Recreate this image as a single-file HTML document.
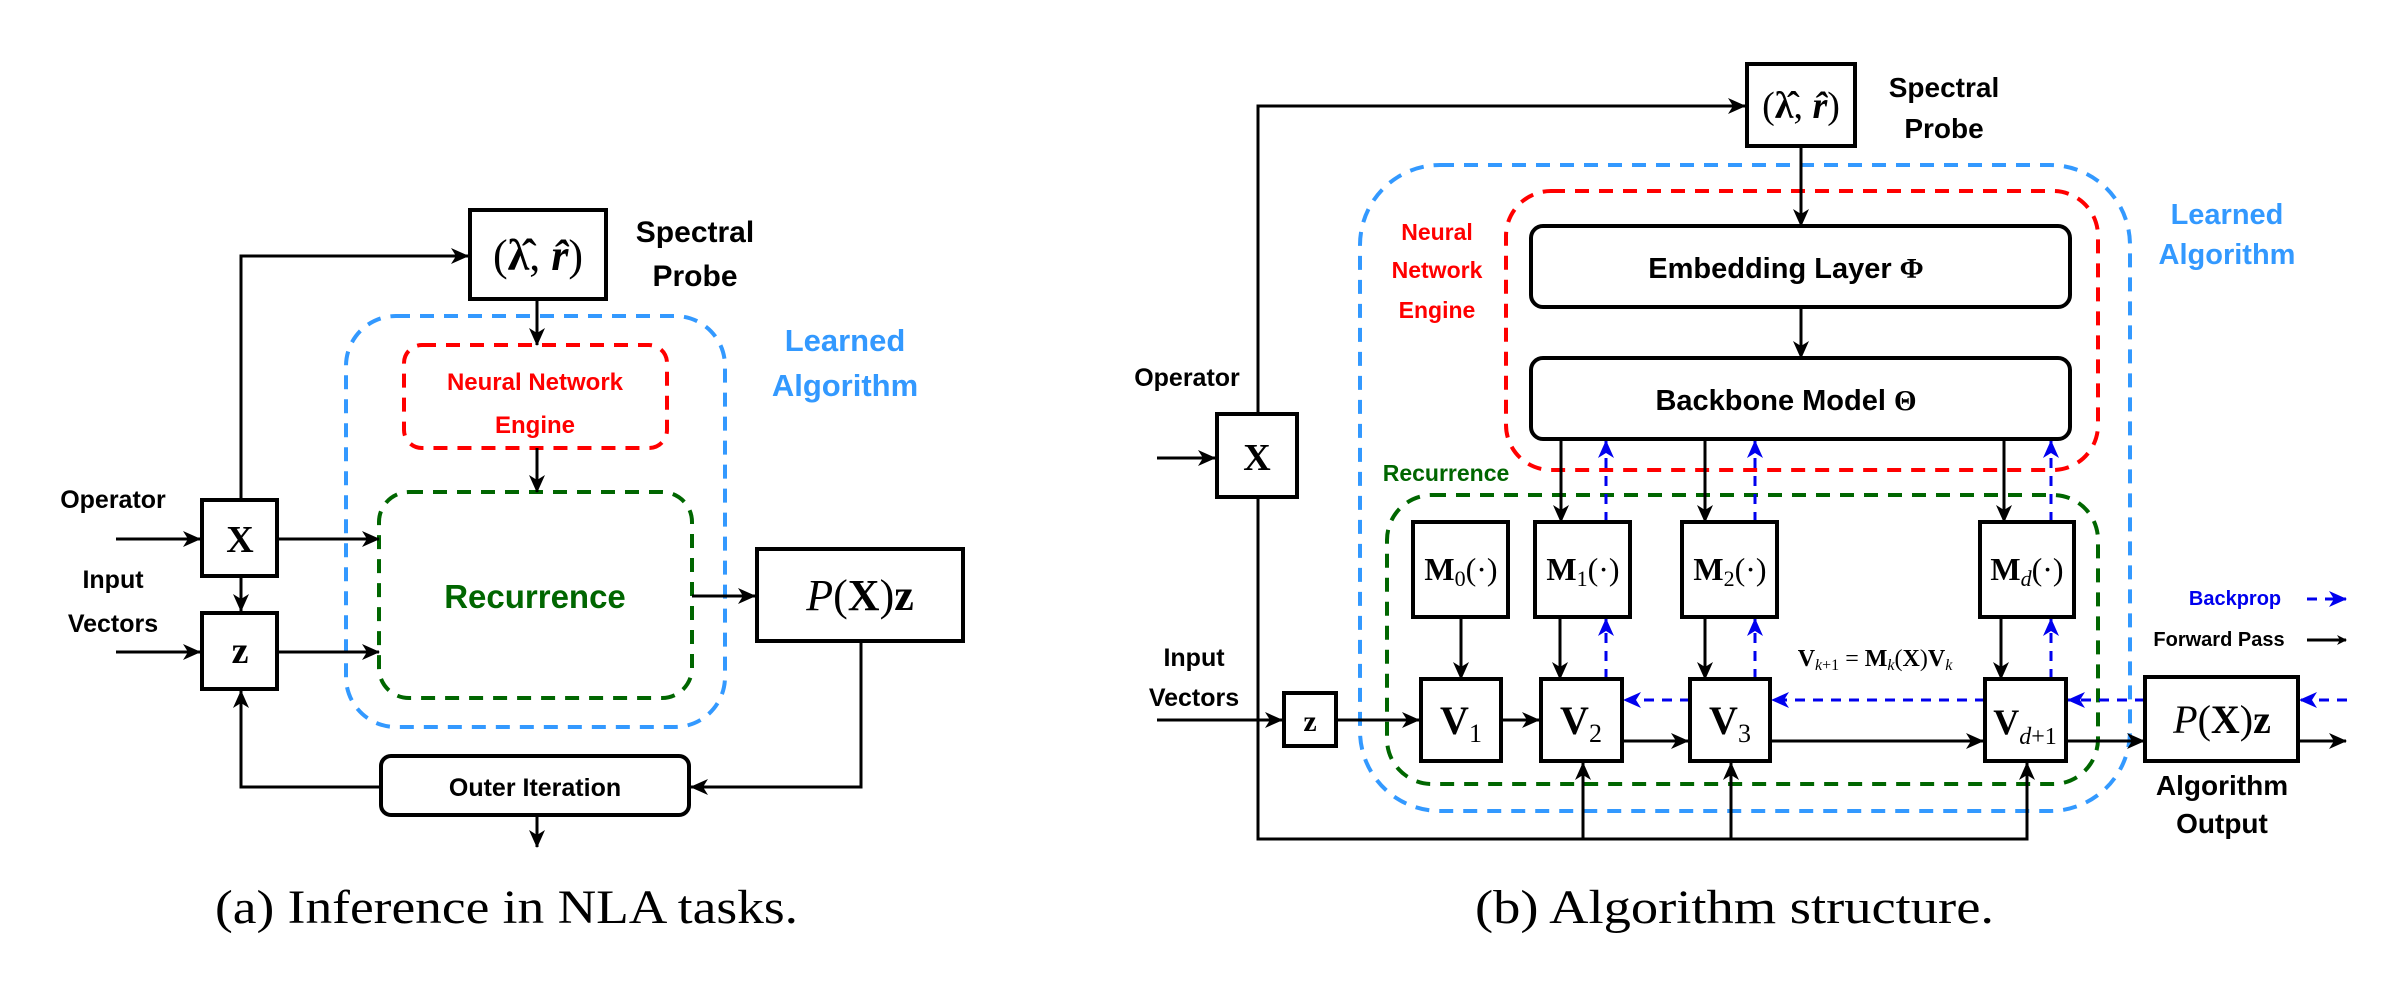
<!DOCTYPE html>
<html><head><meta charset="utf-8"><style>
html,body{margin:0;padding:0;background:#fff}
svg{display:block}
.s{font-family:"Liberation Sans",sans-serif;font-weight:bold}
.m{font-family:"Liberation Serif",serif}
</style></head><body>
<svg width="2406" height="986" viewBox="0 0 2406 986" xmlns="http://www.w3.org/2000/svg">
<defs>
<marker id="a" markerWidth="10" markerHeight="10" refX="9" refY="5" orient="auto" markerUnits="userSpaceOnUse" viewBox="0 0 10 10"><path d="M0,0 L10,5 L0,10 L3,5z" fill="#000"/></marker>
<marker id="A" markerWidth="18" markerHeight="18" refX="17" refY="9" orient="auto" markerUnits="userSpaceOnUse" viewBox="0 0 18 18"><path d="M0,1 L18,9 L0,17 L5,9z" fill="#000"/></marker>
<marker id="b" markerWidth="18" markerHeight="18" refX="17" refY="9" orient="auto" markerUnits="userSpaceOnUse" viewBox="0 0 18 18"><path d="M0,1 L18,9 L0,17 L5,9z" fill="#0000ee"/></marker>
</defs>

<!-- ============ LEFT PANEL ============ -->
<g fill="none">
<rect x="346" y="316" width="379" height="411" rx="50" stroke="#3399ff" stroke-width="4" stroke-dasharray="14,10"/>
<rect x="404" y="345" width="263" height="103" rx="18" stroke="#ff0000" stroke-width="4" stroke-dasharray="14,10"/>
<rect x="379" y="492" width="313" height="206" rx="30" stroke="#006600" stroke-width="4" stroke-dasharray="14,10"/>
</g>
<g stroke="#000" stroke-width="4" fill="#fff">
<rect x="470" y="210" width="136" height="89"/>
<rect x="202" y="500" width="75" height="76"/>
<rect x="202" y="613" width="75" height="76"/>
<rect x="757" y="549" width="206" height="92"/>
<rect x="381" y="756" width="308" height="59" rx="10"/>
</g>
<g stroke="#000" stroke-width="3" fill="none">
<polyline points="241,500 241,256 468,256" marker-end="url(#A)"/>
<line x1="537" y1="299" x2="537" y2="345" marker-end="url(#A)"/>
<line x1="537" y1="448" x2="537" y2="492" marker-end="url(#A)"/>
<line x1="116" y1="539" x2="200" y2="539" marker-end="url(#A)"/>
<line x1="116" y1="652" x2="200" y2="652" marker-end="url(#A)"/>
<line x1="277" y1="539" x2="379" y2="539" marker-end="url(#A)"/>
<line x1="277" y1="652" x2="379" y2="652" marker-end="url(#A)"/>
<line x1="241" y1="576" x2="241" y2="611" marker-end="url(#A)"/>
<line x1="692" y1="596" x2="755" y2="596" marker-end="url(#A)"/>
<polyline points="861,641 861,787 691,787" marker-end="url(#A)"/>
<polyline points="381,787 241,787 241,691" marker-end="url(#A)"/>
<line x1="537" y1="815" x2="537" y2="847" marker-end="url(#A)"/>
</g>
<g class="s" text-anchor="middle">
<text x="695" y="242" font-size="30">Spectral</text>
<text x="695" y="286" font-size="30">Probe</text>
<text x="845" y="351" font-size="31" fill="#3399ff">Learned</text>
<text x="845" y="396" font-size="31" fill="#3399ff">Algorithm</text>
<text x="535" y="390" font-size="24" fill="#ff0000">Neural Network</text>
<text x="535" y="433" font-size="24" fill="#ff0000">Engine</text>
<text x="535" y="608" font-size="33" fill="#006600">Recurrence</text>
<text x="113" y="508" font-size="25">Operator</text>
<text x="113" y="588" font-size="25">Input</text>
<text x="113" y="632" font-size="25">Vectors</text>
<text x="535" y="796" font-size="25">Outer Iteration</text>
</g>
<g class="m" text-anchor="middle">
<text x="538" y="270" font-size="44">(<tspan font-weight="bold">λ̂</tspan>, <tspan font-weight="bold" font-style="italic">r̂</tspan>)</text>
<text x="240" y="552" font-size="38" font-weight="bold">X</text>
<text x="240" y="663" font-size="38" font-weight="bold">z</text>
<text x="860" y="610" font-size="44"><tspan font-style="italic">P</tspan>(<tspan font-weight="bold">X</tspan>)<tspan font-weight="bold">z</tspan></text>
</g>
<text class="m" x="215" y="923" font-size="48" textLength="583" lengthAdjust="spacingAndGlyphs">(a) Inference in NLA tasks.</text>

<!-- ============ RIGHT PANEL ============ -->
<g fill="none">
<rect x="1360" y="165" width="770" height="646" rx="80" stroke="#3399ff" stroke-width="4" stroke-dasharray="14,10"/>
<rect x="1506" y="191" width="592" height="279" rx="45" stroke="#ff0000" stroke-width="4" stroke-dasharray="14,10"/>
<rect x="1387" y="495" width="711" height="289" rx="45" stroke="#006600" stroke-width="4" stroke-dasharray="14,10"/>
</g>
<g stroke="#000" stroke-width="3" fill="none">
<polyline points="1258,414 1258,106 1745,106" marker-end="url(#A)"/>
<polyline points="1258,497 1258,839 2027,839 2027,763" marker-end="url(#A)"/>
<line x1="1583" y1="839" x2="1583" y2="763" marker-end="url(#A)"/>
<line x1="1731" y1="839" x2="1731" y2="763" marker-end="url(#A)"/>
<line x1="1157" y1="458" x2="1215" y2="458" marker-end="url(#A)"/>
<line x1="1801" y1="146" x2="1801" y2="226" marker-end="url(#A)"/>
<line x1="1801" y1="307" x2="1801" y2="358" marker-end="url(#A)"/>
<line x1="1561" y1="439" x2="1561" y2="522" marker-end="url(#A)"/>
<line x1="1705" y1="439" x2="1705" y2="522" marker-end="url(#A)"/>
<line x1="2004" y1="439" x2="2004" y2="522" marker-end="url(#A)"/>
<line x1="1461" y1="617" x2="1461" y2="679" marker-end="url(#A)"/>
<line x1="1560" y1="617" x2="1560" y2="679" marker-end="url(#A)"/>
<line x1="1705" y1="617" x2="1705" y2="679" marker-end="url(#A)"/>
<line x1="2001" y1="617" x2="2001" y2="679" marker-end="url(#A)"/>
<line x1="1157" y1="720" x2="1282" y2="720" marker-end="url(#A)"/>
<line x1="1336" y1="720" x2="1419" y2="720" marker-end="url(#A)"/>
<line x1="1501" y1="720" x2="1539" y2="720" marker-end="url(#A)"/>
<line x1="1622" y1="741" x2="1688" y2="741" marker-end="url(#A)"/>
<line x1="1770" y1="741" x2="1983" y2="741" marker-end="url(#A)"/>
<line x1="2066" y1="741" x2="2144" y2="741" marker-end="url(#A)"/>
<line x1="2298" y1="741" x2="2346" y2="741" marker-end="url(#A)"/>
<line x1="2307" y1="640" x2="2346" y2="640" marker-end="url(#a)"/>
</g>
<g stroke="#0000ee" stroke-width="3" fill="none" stroke-dasharray="10,8">
<line x1="1606" y1="522" x2="1606" y2="441" marker-end="url(#b)"/>
<line x1="1755" y1="522" x2="1755" y2="441" marker-end="url(#b)"/>
<line x1="2051" y1="522" x2="2051" y2="441" marker-end="url(#b)"/>
<line x1="1606" y1="679" x2="1606" y2="619" marker-end="url(#b)"/>
<line x1="1755" y1="679" x2="1755" y2="619" marker-end="url(#b)"/>
<line x1="2051" y1="679" x2="2051" y2="619" marker-end="url(#b)"/>
<line x1="2347" y1="700" x2="2300" y2="700" marker-end="url(#b)"/>
<line x1="2145" y1="700" x2="2068" y2="700" marker-end="url(#b)"/>
<line x1="1985" y1="700" x2="1772" y2="700" marker-end="url(#b)"/>
<line x1="1690" y1="700" x2="1624" y2="700" marker-end="url(#b)"/>
<line x1="2307" y1="599" x2="2346" y2="599" marker-end="url(#b)"/>
</g>
<g stroke="#000" stroke-width="4" fill="#fff">
<rect x="1747" y="64" width="108" height="82"/>
<rect x="1217" y="414" width="80" height="83"/>
<rect x="1531" y="226" width="539" height="81" rx="12"/>
<rect x="1531" y="358" width="539" height="81" rx="12"/>
<rect x="1413" y="522" width="95" height="95"/>
<rect x="1535" y="522" width="95" height="95"/>
<rect x="1682" y="522" width="95" height="95"/>
<rect x="1980" y="522" width="94" height="95"/>
<rect x="1421" y="679" width="80" height="82"/>
<rect x="1541" y="679" width="81" height="82"/>
<rect x="1690" y="679" width="80" height="82"/>
<rect x="1985" y="679" width="81" height="82"/>
<rect x="1284" y="693" width="52" height="53"/>
<rect x="2145" y="677" width="153" height="84"/>
</g>
<g class="s" text-anchor="middle">
<text x="1944" y="97" font-size="28">Spectral</text>
<text x="1944" y="138" font-size="28">Probe</text>
<text x="2227" y="224" font-size="29" fill="#3399ff">Learned</text>
<text x="2227" y="264" font-size="29" fill="#3399ff">Algorithm</text>
<text x="1437" y="240" font-size="23" fill="#ff0000">Neural</text>
<text x="1437" y="278" font-size="23" fill="#ff0000">Network</text>
<text x="1437" y="318" font-size="23" fill="#ff0000">Engine</text>
<text x="1446" y="481" font-size="23" fill="#006600">Recurrence</text>
<text x="1187" y="386" font-size="25">Operator</text>
<text x="1194" y="666" font-size="25">Input</text>
<text x="1194" y="706" font-size="25">Vectors</text>
<text x="1786" y="278" font-size="29">Embedding Layer <tspan class="m">Φ</tspan></text>
<text x="1786" y="410" font-size="29">Backbone Model <tspan class="m">Θ</tspan></text>
<text x="2222" y="795" font-size="28">Algorithm</text>
<text x="2222" y="833" font-size="28">Output</text>
<text x="2235" y="605" font-size="20" fill="#0000ee">Backprop</text>
<text x="2219" y="646" font-size="20">Forward Pass</text>
</g>
<g class="m" text-anchor="middle">
<text x="1801" y="118" font-size="38">(<tspan font-weight="bold">λ̂</tspan>, <tspan font-weight="bold" font-style="italic">r̂</tspan>)</text>
<text x="1257" y="470" font-size="38" font-weight="bold">X</text>
<text x="1310" y="731" font-size="30" font-weight="bold">z</text>
<text x="1461" y="580" font-size="32"><tspan font-weight="bold">M</tspan><tspan font-size="22" dy="6">0</tspan><tspan dy="-6">(·)</tspan></text>
<text x="1583" y="580" font-size="32"><tspan font-weight="bold">M</tspan><tspan font-size="22" dy="6">1</tspan><tspan dy="-6">(·)</tspan></text>
<text x="1730" y="580" font-size="32"><tspan font-weight="bold">M</tspan><tspan font-size="22" dy="6">2</tspan><tspan dy="-6">(·)</tspan></text>
<text x="2027" y="580" font-size="32"><tspan font-weight="bold">M</tspan><tspan font-size="22" dy="6" font-style="italic">d</tspan><tspan dy="-6">(·)</tspan></text>
<text x="1461" y="734" font-size="40"><tspan font-weight="bold">V</tspan><tspan font-size="26" dy="8">1</tspan></text>
<text x="1581" y="734" font-size="40"><tspan font-weight="bold">V</tspan><tspan font-size="26" dy="8">2</tspan></text>
<text x="1730" y="734" font-size="40"><tspan font-weight="bold">V</tspan><tspan font-size="26" dy="8">3</tspan></text>
<text x="2025" y="734" font-size="36"><tspan font-weight="bold">V</tspan><tspan font-size="24" dy="10"><tspan font-style="italic">d</tspan>+1</tspan></text>
<text x="1875" y="666" font-size="24"><tspan font-weight="bold">V</tspan><tspan font-size="16" dy="4"><tspan font-style="italic">k</tspan>+1</tspan><tspan dy="-4"> = </tspan><tspan font-weight="bold">M</tspan><tspan font-size="16" dy="4" font-style="italic">k</tspan><tspan dy="-4">(</tspan><tspan font-weight="bold">X</tspan>)<tspan font-weight="bold">V</tspan><tspan font-size="16" dy="4" font-style="italic">k</tspan></text>
<text x="2222" y="733" font-size="40"><tspan font-style="italic">P</tspan>(<tspan font-weight="bold">X</tspan>)<tspan font-weight="bold">z</tspan></text>
</g>
<text class="m" x="1475" y="923" font-size="48" textLength="519" lengthAdjust="spacingAndGlyphs">(b) Algorithm structure.</text>
</svg>
</body></html>
